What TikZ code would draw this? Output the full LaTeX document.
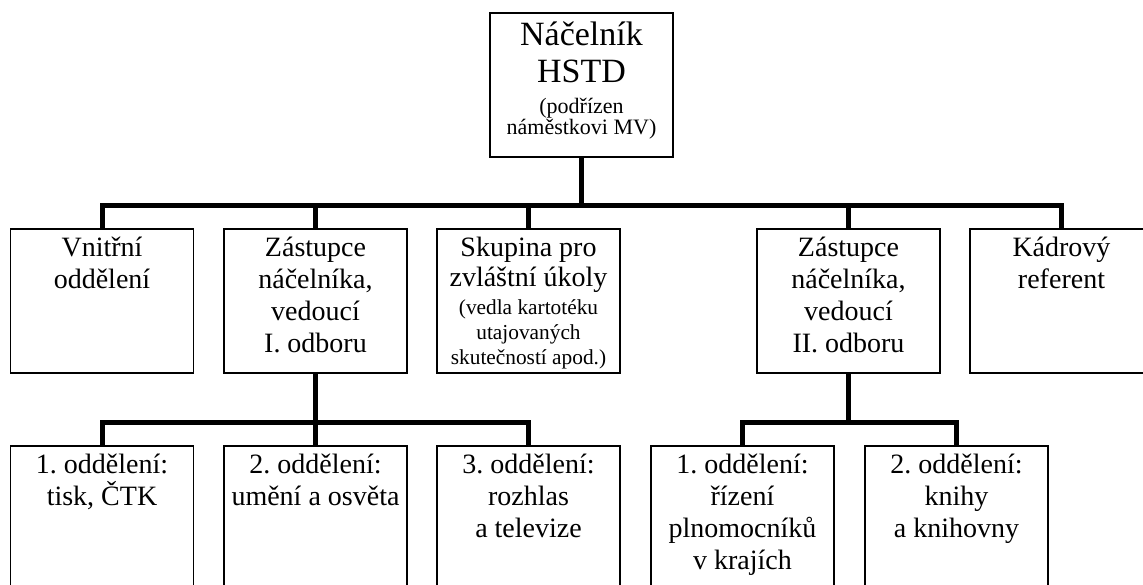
\documentclass[tikz,border=0pt]{standalone}
\usepackage{fontspec}
\setmainfont{Liberation Serif}
\frenchspacing
\begin{document}
\begin{tikzpicture}[x=0.75pt,y=-0.75pt,
  box/.style={draw=black, line width=1.2pt, minimum width=137.25pt, minimum height=108pt, inner sep=0pt},
  conn/.style={line width=3.75pt},
  txt/.style={anchor=north, align=center, inner sep=0pt, font=\fontsize{21}{24}\selectfont},
  bigtxt/.style={txt, font=\fontsize{25.5}{27.75}\selectfont},
  smalltxt/.style={txt, font=\fontsize{16.5}{16}\selectfont},
  smalltxtb/.style={txt, font=\fontsize{16}{18.75}\selectfont}
]
\useasboundingbox (0,0) rectangle (1143,585);
\clip (0,0) rectangle (1143,585);
% boxes
\node[box] (top) at (581.5,85) {};
\node[box] (A) at (102,301) {};
\node[box] (B) at (315.5,301) {};
\node[box] (C) at (528.5,301) {};
\node[box] (D) at (848.5,301) {};
\node[box] (E) at (1061.5,301) {};
\node[box] (B1) at (102,518) {};
\node[box] (B2) at (315.5,518) {};
\node[box] (B3) at (528.5,518) {};
\node[box] (D1) at (742.5,518) {};
\node[box] (D2) at (956.5,518) {};
% texts
\node[bigtxt, yshift=-7pt] (ttop) at (top.north) {Náčelník\\HSTD};
\node[smalltxt, yshift=-11pt] (ttops) at (ttop.south) {(podřízen\\náměstkovi MV)};
\node[txt, yshift=-6.75pt] (tA) at (A.north) {Vnitřní\\oddělení};
\node[txt, yshift=-6.75pt] (tB) at (B.north) {Zástupce\\náčelníka,\\vedoucí\\I. odboru};
\node[txt, font=\fontsize{21}{22.5}\selectfont, yshift=-6.75pt] (tC) at (C.north) {Skupina pro\\zvláštní úkoly};
\node[smalltxtb, yshift=-4.6pt] (tCs) at (tC.south) {(vedla kartotéku\\utajovaných\\skutečností apod.)};
\node[txt, yshift=-6.75pt] (tD) at (D.north) {Zástupce\\náčelníka,\\vedoucí\\II. odboru};
\node[txt, yshift=-6.75pt] (tE) at (E.north) {Kádrový\\referent};
\node[txt, yshift=-6.75pt] (tB1) at (B1.north) {1. oddělení:\\tisk, ČTK};
\node[txt, yshift=-6.75pt] (tB2) at (B2.north) {2. oddělení:\\umění a osvěta};
\node[txt, yshift=-6.75pt] (tB3) at (B3.north) {3. oddělení:\\rozhlas\\a televize};
\node[txt, yshift=-6.75pt] (tD1) at (D1.north) {1. oddělení:\\řízení\\plnomocníků\\v krajích};
\node[txt, yshift=-6.75pt] (tD2) at (D2.north) {2. oddělení:\\knihy\\a knihovny};
% connectors
\coordinate (bus1) at (581.5,205);
\coordinate (bus2) at (315.5,422);
\coordinate (bus3) at (848.5,422);
\draw[conn] (top.south) -- (bus1);
\foreach \n in {A,B,C,D,E} \draw[conn] (\n.north) |- (bus1);
\draw[conn] (B.south) -- (bus2);
\foreach \n in {B1,B2,B3} \draw[conn] (\n.north) |- (bus2);
\draw[conn] (D.south) -- (bus3);
\foreach \n in {D1,D2} \draw[conn] (\n.north) |- (bus3);
\end{tikzpicture}
\end{document}
